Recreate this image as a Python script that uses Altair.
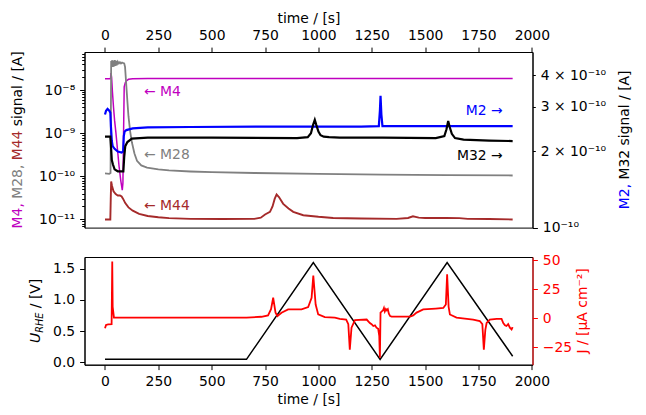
import altair as alt
import pandas as pd

FONT = "DejaVu Sans"
FS = 13.9

# ---------------- data ----------------
# top panel, left axis (log)  -- M4, M28, M44
m4_t = [0, 26, 28, 31, 35, 40, 45, 51, 58, 66, 74, 81, 84, 87, 90, 95, 100, 110, 130, 200, 500, 1000, 1500, 1910]
m4_v = [1.85e-8, 1.85e-8, 2.5e-8, 2.0e-8, 9e-9, 4e-9, 2e-9, 1.05e-9, 4.5e-10, 1.7e-10, 8e-11, 4.8e-11,
        7e-11, 1e-9, 1.2e-8, 1.5e-8, 1.65e-8, 1.8e-8, 1.85e-8, 1.87e-8, 1.87e-8, 1.87e-8, 1.87e-8, 1.87e-8]

m28_t = [0, 20, 26, 29, 31, 34, 37, 40, 43, 46, 49, 52, 55, 60, 65, 70, 75, 80, 85, 90, 94, 99, 105, 110,
         118, 126, 138, 150, 170, 197, 250, 300, 400, 500, 700, 1000, 1300, 1600, 1910]
m28_v = [1.17e-10, 1.15e-10, 1.2e-10, 4.8e-8, 3.6e-8, 5e-8, 3.5e-8, 4.9e-8, 3.6e-8, 5e-8, 3.7e-8, 4.8e-8,
         3.8e-8, 4.6e-8, 4.2e-8, 4.5e-8, 4.2e-8, 4.4e-8, 4.3e-8, 4.2e-8, 3.5e-8, 1.5e-8, 5.5e-9, 2.5e-9,
         1.1e-9, 6.2e-10, 3.4e-10, 2.3e-10, 1.8e-10, 1.6e-10, 1.45e-10, 1.38e-10, 1.3e-10, 1.25e-10,
         1.2e-10, 1.15e-10, 1.1e-10, 1.07e-10, 1.05e-10]

m44_t = [0, 25, 27, 29, 33, 40, 50, 60, 70, 78, 85, 95, 110, 130, 160, 200, 250, 300, 400, 550, 700, 730,
         750, 773, 785, 795, 804, 815, 835, 860, 882, 929, 1000, 1069, 1200, 1366, 1420, 1443, 1470, 1500,
         1600, 1660, 1700, 1800, 1910]
m44_v = [1e-11, 1e-11, 3e-11, 7.6e-11, 6e-11, 4.5e-11, 3.9e-11, 3.6e-11, 3.6e-11, 3.4e-11, 3.0e-11, 2.4e-11,
         1.9e-11, 1.6e-11, 1.35e-11, 1.2e-11, 1.12e-11, 1.07e-11, 1.03e-11, 1.02e-11, 1.03e-11, 1.1e-11,
         1.3e-11, 1.5e-11, 2.0e-11, 3.0e-11, 3.8e-11, 3.3e-11, 2.3e-11, 1.8e-11, 1.5e-11, 1.25e-11, 1.15e-11,
         1.08e-11, 1.05e-11, 1.03e-11, 1.08e-11, 1.18e-11, 1.1e-11, 1.08e-11, 1.08e-11, 1.07e-11, 1.03e-11,
         1.02e-11, 1.0e-11]

# top panel, right axis (log) -- M2, M32
m2_t = [0, 5, 12, 20, 25, 28, 32, 36, 45, 60, 78, 85, 88, 92, 100, 130, 200, 400, 800, 1200, 1283, 1288,
        1291, 1295, 1300, 1400, 1600, 1910]
m2_v = [2.8e-10, 2.9e-10, 2.95e-10, 2.9e-10, 2.85e-10, 2.5e-10, 2.2e-10, 2.1e-10, 2.05e-10, 2.0e-10,
        1.98e-10, 2.0e-10, 2.3e-10, 2.4e-10, 2.43e-10, 2.47e-10, 2.49e-10, 2.5e-10, 2.51e-10, 2.51e-10,
        2.52e-10, 2.9e-10, 3.32e-10, 2.8e-10, 2.52e-10, 2.52e-10, 2.52e-10, 2.52e-10]

m32_t = [0, 25, 28, 32, 37, 45, 60, 86, 90, 95, 105, 126, 200, 500, 900, 950, 965, 975, 983, 990, 1000,
         1010, 1025, 1050, 1100, 1300, 1550, 1590, 1600, 1608, 1615, 1625, 1640, 1680, 1800, 1910]
m32_v = [2.29e-10, 2.29e-10, 2.1e-10, 1.85e-10, 1.78e-10, 1.7e-10, 1.67e-10, 1.67e-10, 1.9e-10, 2.1e-10,
         2.18e-10, 2.25e-10, 2.27e-10, 2.27e-10, 2.26e-10, 2.28e-10, 2.36e-10, 2.55e-10, 2.67e-10, 2.55e-10,
         2.4e-10, 2.32e-10, 2.29e-10, 2.28e-10, 2.27e-10, 2.27e-10, 2.26e-10, 2.3e-10, 2.45e-10, 2.64e-10,
         2.5e-10, 2.35e-10, 2.26e-10, 2.23e-10, 2.21e-10, 2.2e-10]

# bottom panel -- potential (left) and current density (right)
u_t = [0, 663, 976, 1289, 1603, 1910]
u_v = [0.05, 0.05, 1.60, 0.05, 1.60, 0.10]

j_t = [0, 5, 15, 31, 34, 36, 42, 100, 663, 733, 764, 778, 788, 799, 808, 827, 858, 921, 952, 968, 976, 987,
       999, 1030, 1077, 1100, 1130, 1140, 1147, 1155, 1171, 1226, 1241, 1249, 1257, 1265, 1272, 1280, 1285,
       1288, 1291, 1297, 1303, 1307, 1311, 1316, 1320, 1325, 1330, 1336, 1343, 1350, 1429, 1444, 1460, 1491,
       1550, 1585, 1597, 1603, 1610, 1616, 1647, 1725, 1756, 1768, 1775, 1782, 1788, 1803, 1835, 1858, 1866,
       1874, 1881, 1889, 1897, 1905, 1910]
j_v = [-8.6, -5.7, -5.2, -5.0, 49, 10, 0.6, 0.6, 0.6, 1.4, 2.6, 8, 17.8, 4.9, 2.0, 4.9, 7.8, 7.8, 9.8, 17.8,
       37, 12, 3.4, 1.1, 0.6, -0.5, -1, -5, -27, -8, -1.5, -1, -4, -5, -6.6, -6, -8, -9, -15, -34, 5, 6, 7,
       9, 6, 8, 7, 8, 4, 2, 1.5, 1.5, 1.5, 2.6, 5, 7.8, 8.5, 9, 12, 38, 10, 3.4, 0.6, -1, -2.3, -5, -27, -10,
       -4, -1, -0.5, -0.5, -4, -6, -6.6, -5, -8, -9.5, -7.5]

time_ticks = [0, 250, 500, 750, 1000, 1250, 1500, 1750, 2000]
left_major = [1e-11, 1e-10, 1e-9, 1e-8]
left_labels = ["10⁻¹¹", "10⁻¹⁰", "10⁻⁹", "10⁻⁸"]
right_ticks = [1e-10, 2e-10, 3e-10, 4e-10]
right_labels = ["10⁻¹⁰", "2 × 10⁻¹⁰", "3 × 10⁻¹⁰", "4 × 10⁻¹⁰"]
u_ticks = [0.0, 0.5, 1.0, 1.5]
j_ticks = [-25, 0, 25, 50]

# annotation labels (text, time, value)
left_notes = [("← M4", 183, 9e-9, "#bf00bf"), ("← M28", 183, 3.1e-10, "#808080"), ("← M44", 183, 2.02e-11, "#a52a2a")]
right_notes = [("M2 →", 1863, 2.88e-10, "#0000ff"), ("M32 →", 1863, 1.92e-10, "black")]

# ---------------- layout constants ----------------
W, H1, H2 = 448, 175.6, 107.7
T_DOM = [-96, 2003]
L_DOM = [6.46e-12, 7.76e-8]
R_DOM = [1e-10, 4.95e-10]
U_DOM = [-0.036, 1.688]
J_DOM = [-40, 53]

minor = []
for d in range(-12, -7):
    for k in range(2, 10):
        val = float(f"{k}e{d}")
        if L_DOM[0] <= val <= L_DOM[1]:
            minor.append(val)

def frame(t, v):
    return pd.DataFrame({"t": t, "v": v})

tx = dict(values=time_ticks, title="time / [s]", format="d", labelOverlap=False, labelFlush=False)
x_top = alt.X("t:Q", scale=alt.Scale(domain=T_DOM, nice=False, zero=False),
              axis=alt.Axis(orient="top", labelPadding=4.9, titlePadding=3, **tx))
x_bot = alt.X("t:Q", scale=alt.Scale(domain=T_DOM, nice=False, zero=False),
              axis=alt.Axis(orient="bottom", labelPadding=4.9, titlePadding=4, **tx))

major_list = "[" + ",".join(repr(v) for v in left_major) + "]"
left_label_expr = " : ".join(f"datum.value == {v!r} ? '{s}'" for v, s in zip(left_major, left_labels)) + " : ''"
y_left = alt.Y("v:Q", scale=alt.Scale(type="log", domain=L_DOM, nice=False),
               axis=alt.Axis(orient="left", values=left_major + minor, title=None, labelExpr=left_label_expr,
                             labelOverlap=False,
                             tickSize={"condition": {"test": f"indexof({major_list}, datum.value) >= 0", "value": 4.9},
                                       "value": 2.8}))
right_list = "[" + ",".join(f"'{s}'" for s in right_labels) + "]"
y_right = alt.Y("v:Q", scale=alt.Scale(type="log", domain=R_DOM, nice=False),
                axis=alt.Axis(orient="right", values=right_ticks, title=None, labelOverlap=False,
                              labelExpr=f"{right_list}[round(datum.value*1e10)-1]",
                              tickSize={"condition": {"test": "round(datum.value*1e10) == 1", "value": 4.9},
                                        "value": 2.8}))

def line(t, v, color, y, x, sw=1.5):
    return alt.Chart(frame(t, v)).mark_line(color=color, strokeWidth=sw, clip=True).encode(x=x, y=y)

def note(txt, t, v, color, y, x, align):
    return alt.Chart(pd.DataFrame({"t": [t], "v": [v], "s": [txt]})).mark_text(
        color=color, font=FONT, fontSize=FS, align=align, baseline="middle").encode(x=x, y=y, text="s:N")

def vtext(txt, x, y, color="black", align="left", size=FS, style="normal"):
    return alt.Chart(pd.DataFrame({"d": [0]})).mark_text(
        text=txt, color=color, font=FONT, fontSize=size, angle=270, align=align, baseline="middle",
        fontStyle=style).encode(x=alt.value(x), y=alt.value(y))

left_layer = alt.layer(
    line(m4_t, m4_v, "#bf00bf", y_left, x_top),
    line(m28_t, m28_v, "#808080", y_left, x_top, 1.8),
    line(m44_t, m44_v, "#a52a2a", y_left, x_top, 1.9),
    *[note(s, t, v, c, y_left, x_top, "left") for s, t, v, c in left_notes],
)
right_layer = alt.layer(
    line(m2_t, m2_v, "#0000ff", y_right, x_top, 2.2),
    line(m32_t, m32_v, "black", y_right, x_top, 2.2),
    *[note(s, t, v, c, y_right, x_top, "right") for s, t, v, c in right_notes],
)

# multi-coloured rotated axis titles (widths of DejaVu Sans advance at FS)
em = FS
lt = [("M4, ", "#bf00bf", 2.135), ("M28, ", "#808080", 2.771), ("M44 ", "#a52a2a", 2.453), ("signal / [A]", "black", 5.396)]
tot = sum(w for _, _, w in lt) * em
pos = H1 / 2 + tot / 2
left_title = []
for s, c, w in lt:
    left_title.append(vtext(s, -66.5, pos, c))
    pos -= w * em
rt = [("M2, ", "#0000ff", 2.135), ("M32 signal / [A]", "black", 7.849)]
tot = sum(w for _, _, w in rt) * em
pos = H1 / 2 + tot / 2
right_title = []
for s, c, w in rt:
    right_title.append(vtext(s, W + 92.7, pos, c))
    pos -= w * em

top = alt.layer(left_layer, right_layer, *left_title, *right_title).resolve_scale(y="independent").properties(
    width=W, height=H1)

y_u = alt.Y("v:Q", scale=alt.Scale(domain=U_DOM, nice=False, zero=False),
            axis=alt.Axis(orient="left", values=u_ticks, format=".1f", title=None, labelOverlap=False))
y_j = alt.Y("v:Q", scale=alt.Scale(domain=J_DOM, nice=False, zero=False),
            axis=alt.Axis(orient="right", values=j_ticks, title=None, labelColor="red", tickColor="red",
                          domainColor="red", labelOverlap=False))

# U_RHE / [V] : (text, advance before it, font size, x, style); leading gap handled explicitly
u_w = [("U", 0.0, 0.732 * FS, FS, -48.5, "italic"),
       ("RHE", 0.0, 2.079 * FS * 0.7, FS * 0.7, -45.0, "italic"),
       ("/ [V]", 0.318 * FS, 2.119 * FS, FS, -48.5, "normal")]
tot = sum(g + w for _, g, w, _, _, _ in u_w)
pos = H2 / 2 + tot / 2
bot_title = []
for s, gap, w, size, xx, st in u_w:
    pos -= gap
    bot_title.append(vtext(s, xx, pos, "black", size=size, style=st))
    pos -= w

bottom = alt.layer(
    alt.layer(line(u_t, u_v, "black", y_u, x_bot)),
    alt.layer(line(j_t, j_v, "red", y_j, x_bot, 1.8)),
    *bot_title,
    vtext("J / [μA cm⁻²]", W + 50.9, H2 / 2, "red", align="center"),
).resolve_scale(y="independent").properties(width=W, height=H2)

chart = alt.vconcat(top, bottom, spacing=29, bounds="flush").properties(
    padding={"left": 1.5, "top": 2, "right": 2, "bottom": 2}
).configure_view(stroke="black", strokeWidth=1).configure_axis(
    labelFont=FONT, titleFont=FONT, labelFontSize=FS, titleFontSize=FS, labelColor="black",
    titleColor="black", titleFontWeight="normal", tickColor="black", domainColor="black", grid=False,
    tickSize=4.9, labelPadding=4.9, domainWidth=1, tickWidth=1
)

chart.save("out.html", embed_options={"renderer": "svg", "actions": False})
